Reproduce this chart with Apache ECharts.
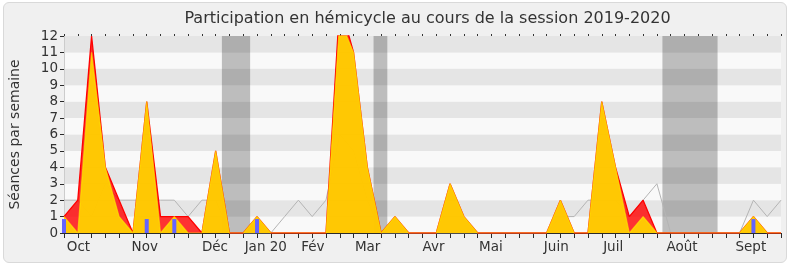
<!DOCTYPE html>
<html><head><meta charset="utf-8">
<script src="https://cdn.jsdelivr.net/npm/echarts@6/dist/echarts.min.js"></script>
<style>
html,body{margin:0;padding:0;background:#ffffff;}
#wrap{position:relative;width:790px;height:267px;}
#card{position:absolute;left:3px;top:2px;width:782px;height:259px;background:#f0f0f0;border:1px solid #d9d9d9;border-radius:6px;}
#chart{position:absolute;left:0;top:0;width:790px;height:267px;}
</style></head>
<body><div id="wrap"><div id="card"></div><div id="chart"></div></div>
<script>
// week index 0..52
const weeks = Array.from({length:53},(_,i)=>i);
const presences = [1,2,12,4,2,0,8,1,1,1,0,5,0,0,1,0,0,0,0,0,14,11,4,0,1,0,0,0,3,1,0,0,0,0,0,0,2,0,0,8,4,1,2,0,0,0,0,0,0,0,1,0,0];
const interventions = [1,0,11,4,1,0,8,0,1,0,0,5,0,0,1,0,0,0,0,0,13,11,4,0,1,0,0,0,3,1,0,0,0,0,0,0,2,0,0,8,4,0,1,0,0,0,0,0,0,0,1,0,0];
const mediane = [2,2,1,3,2,2,2,2,2,1,2,2,0,0,0,0,1,2,1,2,6,5,2,0,0,0,0,0,0,0,0,0,0,0,0,0,1,1,2,2,2,1,2,3,0,0,0,0,0,0,2,1,2];
const questions = [0.85,0,0,0,0,0,0.85,0,0.85,0,0,0,0,0,0.85,0,0,0,0,0,0,0,0,0,0,0,0,0,0,0,0,0,0,0,0,0,0,0,0,0,0,0,0,0,0,0,0,0,0,0,0.85,0,0];
const vacances = [[11.45,13.5],[22.45,23.45],[43.4,47.4]];
const monthLabels = ['Oct','Nov','Déc','Jan 20','Fév','Mar','Avr','Mai','Juin','Juil','Août','Sept'];
const monthPos = [0.2,4.9,10.0,13.1,17.2,21.1,26.0,30.1,34.8,39.1,43.7,48.7];
const yTicks = [0,1,2,3,4,5,6,7,8,9,10,11,12];

const pair = arr => weeks.map(i => [i, arr[i]]);
const FONT = 'DejaVu Sans';
const chart = echarts.init(document.getElementById('chart'), null, {renderer:'canvas'});
chart.setOption({
  backgroundColor: 'transparent',
  animation: false,
  title: {
    text: 'Participation en hémicycle au cours de la session 2019-2020',
    left: 427.5, top: 11, padding: 0, textAlign: 'center',
    textStyle: {fontFamily: FONT, fontSize: 16, fontWeight: 'normal', color: '#333'}
  },
  grid: {left: 61, right: 9, top: 36, bottom: 34, containLabel: false},
  xAxis: [
    {type:'value', min:0, max:52, interval:1, position:'bottom',
     axisLine:{show:true, lineStyle:{color:'#2a2a2a', width:1}},
     axisTick:{show:true, length:5, lineStyle:{color:'#2a2a2a'}},
     axisLabel:{show:false}, splitLine:{show:false}},
    {type:'value', min:0, max:52, interval:0.1, position:'bottom',
     axisLine:{show:false}, axisTick:{show:false}, splitLine:{show:false},
     axisLabel:{show:true, margin:7, align:'left', fontFamily:FONT, fontSize:13.5, color:'#333',
       formatter: v => { const k = Math.round(v*10); const idx = monthPos.findIndex(p => Math.round(p*10) === k); return idx >= 0 ? monthLabels[idx] : ''; }}},
    {type:'value', min:0, max:52, interval:1, position:'top',
     axisLine:{show:false}, axisTick:{show:true, length:2, lineStyle:{color:'#333'}},
     axisLabel:{show:false}, splitLine:{show:false}}
  ],
  yAxis: [
    {type:'value', min:0, max:12, interval:1,
     name:'Séances par semaine', nameLocation:'middle', nameGap:42,
     nameTextStyle:{fontFamily:FONT, fontSize:14, color:'#333'},
     axisLine:{show:true, lineStyle:{color:'#2a2a2a'}},
     axisTick:{show:true, length:4, lineStyle:{color:'#2a2a2a'}},
     axisLabel:{margin:6, fontFamily:FONT, fontSize:13.5, color:'#333', formatter: v => yTicks.includes(v) ? String(v) : ''},
     splitLine:{show:false},
     splitArea:{show:true, areaStyle:{color:['#f9f9f9','#e5e5e5']}}},
    {type:'value', min:0, max:12, interval:1, position:'right',
     axisLine:{show:true, lineStyle:{color:'#cccccc'}}, axisTick:{show:false},
     axisLabel:{show:false}, splitLine:{show:false}, splitArea:{show:false}}
  ],
  series: [
    {type:'line', name:'médiane', data: pair(mediane), xAxisIndex:0, yAxisIndex:0,
     symbol:'none', lineStyle:{color:'#b4b4b4', width:1}, z:2},
    {type:'line', name:'présences', data: pair(presences), xAxisIndex:0, yAxisIndex:0,
     symbol:'none', lineStyle:{color:'#ff0000', width:1.3},
     areaStyle:{color:'rgba(255,0,0,0.8)', opacity:1}, z:3},
    {type:'line', name:'interventions', data: pair(interventions), xAxisIndex:0, yAxisIndex:0,
     symbol:'none', lineStyle:{color:'rgba(255,235,0,0.6)', width:1.2},
     areaStyle:{color:'rgba(255,212,0,0.93)', opacity:1}, z:4},
    {type:'bar', name:'questions', data: pair(questions), xAxisIndex:0, yAxisIndex:0,
     barWidth:4, itemStyle:{color:'#6464ff'}, z:5,
     markArea:{silent:true, itemStyle:{color:'rgba(0,0,0,0.24)'},
       data: vacances.map(v => [{xAxis:v[0]},{xAxis:v[1]}])}}
  ]
});
</script></body></html>
